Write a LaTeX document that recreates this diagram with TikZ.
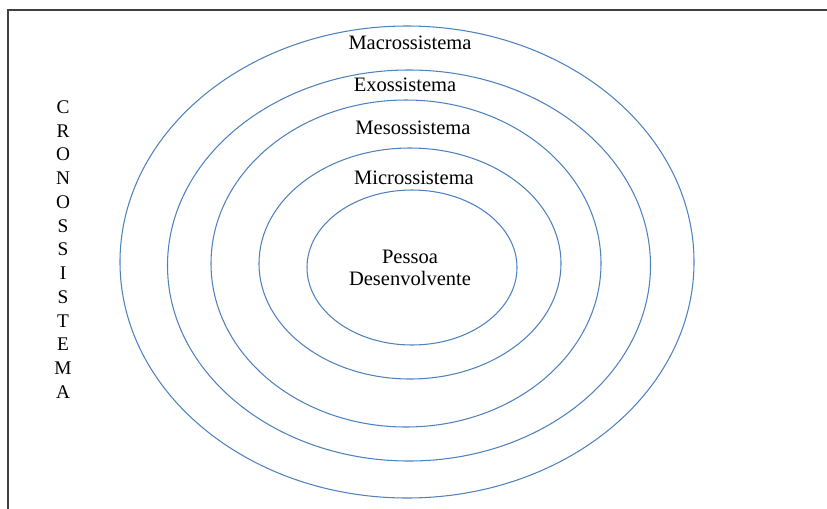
\documentclass[tikz,border=0pt]{standalone}
\usepackage{fontspec}
\setmainfont{Liberation Serif}
\usepackage{tikz}
\usetikzlibrary{positioning}
\definecolor{ringblue}{RGB}{79,129,189}
\tikzset{
  ring/.style={draw=ringblue, line width=0.9pt},
  lbl/.style={font=\fontsize{17.5}{18.7}\selectfont, inner sep=0pt, align=center},
  letter/.style={font=\fontsize{16.5}{18}\selectfont, inner sep=0pt}
}
\begin{document}
\begin{tikzpicture}[x=0.3mm,y=-0.3mm]
  \useasboundingbox (0,0) rectangle (827,508);
  % frame (only top and left show)
  \draw[black!75, line width=1.6pt] (8,520) -- (8,10) -- (840,10);

  % nested systems, outermost first
  \draw[ring] (407,262) ellipse [x radius=287, y radius=236];
  \draw[ring] (409,265.5) ellipse [x radius=241.5, y radius=195.5];
  \draw[ring] (406,263.5) ellipse [x radius=195, y radius=163.5];
  \draw[ring] (410,263.5) ellipse [x radius=151, y radius=115.5];
  \draw[ring] (412,267.5) ellipse [x radius=105, y radius=77.5];

  % Labels
  \node[lbl] (macro) at (410,43) {Macrossistema};
  \node[lbl] (exo) at (405,85) {Exossistema};
  \node[lbl] (meso) at (413,128) {Mesossistema};
  \node[lbl] (micro) at (414,178) {Microssistema};
  \node[lbl] (pessoa) at (410,268) {Pessoa\\Desenvolvente};

  % Cronossistema, one letter per line
  \foreach \l [count=\i] in {C,R,O,N,O,S,S,I,S,T,E,M,A} {
    \node[letter] (crono\i) at (63,{107+(\i-1)*23.75}) {\l};
  }
\end{tikzpicture}
\end{document}
